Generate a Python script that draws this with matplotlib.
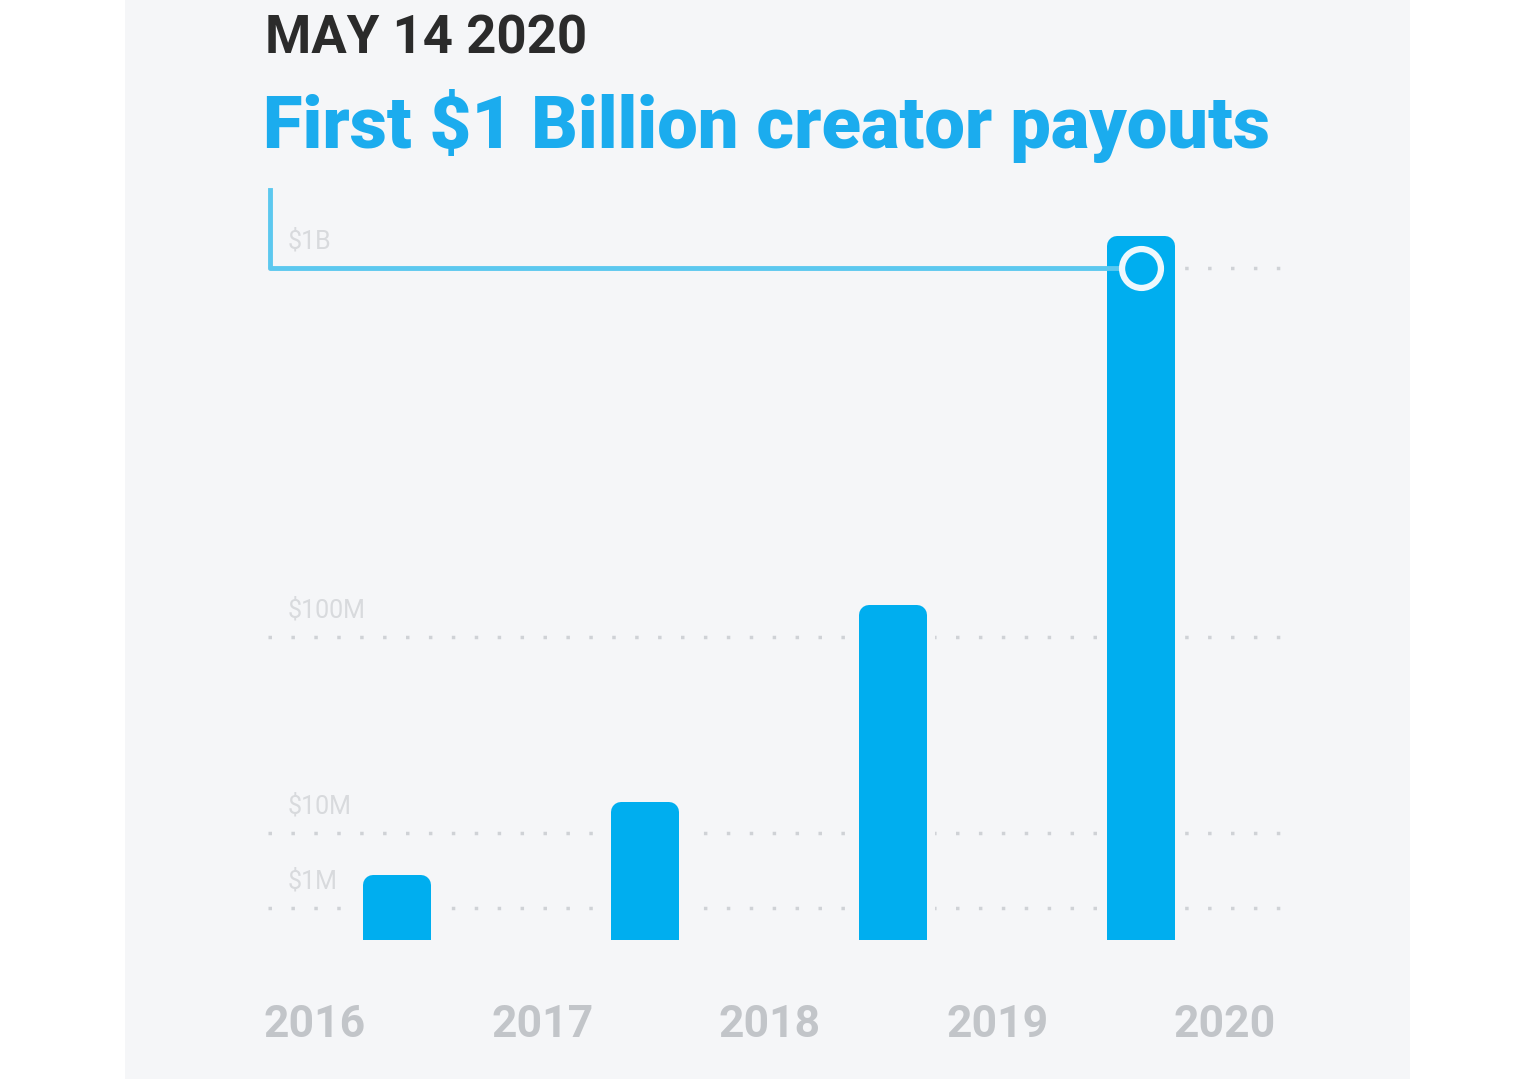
import matplotlib.pyplot as plt
import numpy as np
from matplotlib.patches import Rectangle

# data ($ millions)
years = [2016, 2017, 2018, 2019, 2020]
bar_x = [2016.36, 2017.45, 2018.54, 2019.63]
payouts_m = [2.0, 12.8, 115, 1150]
grid_vals = [1, 10, 100, 1000]
grid_labels = ['$1M', '$10M', '$100M', '$1B']
milestone = 1000

blue = '#00aeef'
line_blue = '#5cc8ef'
bg = '#f5f6f8'
grey_txt = '#c2c5c9'
dot_col = '#cfd2d6'

W, H = 1536, 1079
fig = plt.figure(figsize=(W / 100, H / 100), dpi=100)
fig.patch.set_facecolor('white')
fig.patches.append(Rectangle((125 / W, 0), (1410 - 125) / W, 1, transform=fig.transFigure,
                             facecolor=bg, edgecolor='none', zorder=-5))

# the value axis is log-like but not uniform, so map decades piecewise
dec = np.array([-1, 0, 1, 2, 3, 4])
pos = np.array([0, 32, 107, 303, 672, 1041])


def fwd(v):
    v = np.clip(np.asarray(v, dtype=float), 1e-6, None)
    return np.interp(np.log10(v), dec, pos)


def inv(p):
    return 10 ** np.interp(p, pos, dec)


# axes box in pixels: x 200..1300, y 180..940
ax = fig.add_axes([200 / W, 1 - 940 / H, 1100 / W, 760 / H])
ax.set_facecolor('none')
ax.set_yscale('function', functions=(fwd, inv))
px_per_year = 227.5
ax.set_xlim(2016 + (200 - 315) / px_per_year, 2016 + (1300 - 315) / px_per_year)
ax.set_ylim(0.1, inv(760))

x0 = 2016 + (268 - 315) / px_per_year
x1 = 2016 + (1280 - 315) / px_per_year

# dotted guides
ax.hlines(grid_vals, x0, x1, colors=dot_col, linewidth=2.5,
          linestyles=[(0, (1, 5.6))], zorder=1)
for v, lab in zip(grid_vals, grid_labels):
    y_lab = inv(fwd(v) + 27)
    ax.text(2016 + (288 - 315) / px_per_year, y_lab, lab, fontsize=18,
            color='#d8dadd', family='Roboto', va='center', ha='left', zorder=1)

# bars with rounded tops and a halo that breaks the dots
bw = 48 / px_per_year
ax.bar(bar_x, np.array(payouts_m) - 0.1, bottom=0.1, width=bw, color=bg, edgecolor=bg,
       linewidth=26, joinstyle='round', zorder=2)
ax.bar(bar_x, np.array(payouts_m) - 0.1, bottom=0.1, width=bw, color=blue, edgecolor=blue,
       linewidth=14.4, joinstyle='round', zorder=3)

# milestone line to $1B
xl = 2016 + (270 - 315) / px_per_year
ax.plot([xl, xl, bar_x[-1]], [inv(750), milestone, milestone], color=line_blue,
        linewidth=3.5, solid_joinstyle='round', zorder=4)
ax.plot([bar_x[-1]], [milestone], marker='o', markersize=28, markerfacecolor=blue,
        markeredgecolor='#eef8fd', markeredgewidth=4.5, zorder=5)

ax.set_xticks(years)
ax.set_xticklabels([str(y) for y in years], fontsize=32, fontweight='bold',
                   color=grey_txt, family='Roboto')
ax.tick_params(axis='x', length=0, pad=46)
ax.set_yticks([])
ax.minorticks_off()
for s in ax.spines.values():
    s.set_visible(False)

fig.text(265 / W, 1 - 53 / H, 'MAY 14 2020', fontsize=38, fontweight='bold',
         color='#2b2b2b', family='Roboto', va='baseline', ha='left')
fig.text(263 / W, 1 - 148 / H, 'First $1 Billion creator payouts', fontsize=52,
         fontweight='heavy', color='#1bacee', family='Roboto', va='baseline', ha='left')

fig.savefig('out.png', dpi=100, facecolor='white')
